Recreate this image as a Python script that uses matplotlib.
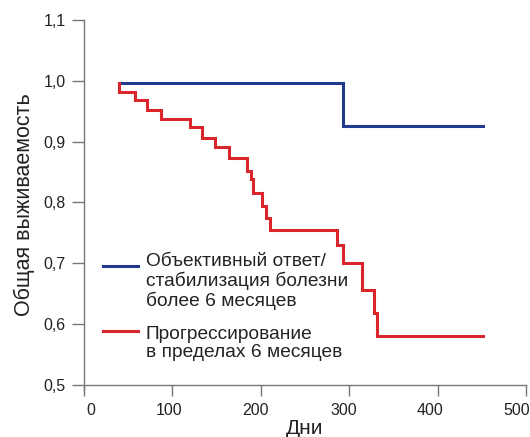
import matplotlib
matplotlib.use("Agg")
import matplotlib.pyplot as plt
from matplotlib.ticker import FuncFormatter
from matplotlib.transforms import ScaledTranslation

plt.rcParams["font.family"] = ["Liberation Sans", "DejaVu Sans"]

# survival curves (days, survival probability), step after each event
resp_days = [40, 293, 451]
resp_surv = [0.997, 0.926, 0.926]

prog_days = [40, 40, 58, 71, 87, 120, 134, 148, 164, 184, 189, 191, 201, 206, 210, 286, 293, 314, 328, 331, 451]
prog_surv = [0.997, 0.982, 0.968, 0.952, 0.937, 0.924, 0.906, 0.891, 0.873, 0.851, 0.838,
             0.815, 0.795, 0.775, 0.754, 0.730, 0.701, 0.657, 0.618, 0.581, 0.581]

resp_label = "Объективный ответ/\nстабилизация болезни\nболее 6 месяцев"
prog_label = "Прогрессирование\nв пределах 6 месяцев"

x_ticks = [0, 100, 200, 300, 400, 500]
y_ticks = [0.5, 0.6, 0.7, 0.8, 0.9, 1.0, 1.1]

blue = "#203a8f"
red = "#d9252c"
axis_col = "#777777"
text_col = "#222222"

fig = plt.figure(figsize=(5.30, 4.37), dpi=100)
ax = fig.add_axes([0.1585, 0.1078, 0.834, 0.8465])

ax.step(resp_days, resp_surv, where="post", color=blue, lw=2.2, solid_joinstyle="miter")
ax.step(prog_days, prog_surv, where="post", color=red, lw=2.2, solid_joinstyle="miter")

ax.set_xlim(0, 500)
ax.set_ylim(0.492, 1.1)
ax.set_xticks(x_ticks)
ax.set_yticks(y_ticks)
ax.yaxis.set_major_formatter(FuncFormatter(lambda v, p: f"{v:.1f}".replace(".", ",")))

for s in ["top", "right"]:
    ax.spines[s].set_visible(False)
ax.spines["bottom"].set_position(("data", 0.5))
for s in ["left", "bottom"]:
    ax.spines[s].set_color(axis_col)
    ax.spines[s].set_linewidth(1.0)

ax.tick_params(axis="both", direction="out", width=1.0, color=axis_col,
               labelsize=11.5, labelcolor=text_col)
ax.tick_params(axis="y", length=9, pad=4)
ax.tick_params(axis="x", length=8, pad=5)

# nudge the day labels a little (tick labels sit slightly left of their ticks)
shifts = [6.5, -3.3, -5.2, -5.8, -7.3, -9.0]
for lab, dx in zip(ax.get_xticklabels(), shifts):
    lab.set_transform(lab.get_transform() + ScaledTranslation(dx / 100, 0, fig.dpi_scale_trans))

ax.set_xlabel("Дни", fontsize=15, color=text_col, labelpad=1)
ax.set_ylabel("Общая выживаемость", fontsize=15.5, color=text_col, labelpad=6)

# legend keys and labels
ax.plot([0.043, 0.122], [0.335, 0.335], transform=ax.transAxes, color=blue, lw=2.2)
ax.text(0.1396, 0.369, resp_label, transform=ax.transAxes, fontsize=13.8, color=text_col,
        va="top", ha="left", linespacing=1.12)
ax.plot([0.043, 0.122], [0.159, 0.159], transform=ax.transAxes, color=red, lw=2.2)
ax.text(0.1396, 0.173, prog_label, transform=ax.transAxes, fontsize=13.8, color=text_col,
        va="top", ha="left", linespacing=1.12)

fig.savefig("out.png", dpi=100)
